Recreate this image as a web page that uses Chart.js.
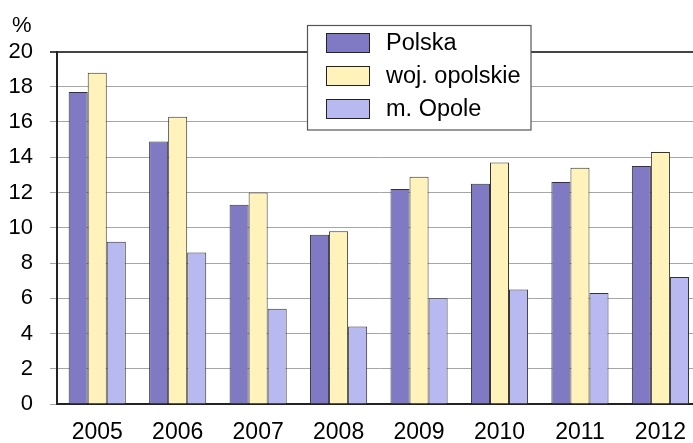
<!DOCTYPE html>
<html>
<head>
<meta charset="utf-8">
<script src="https://cdn.jsdelivr.net/npm/chart.js@4/dist/chart.umd.min.js"></script>
<style>
  html, body { margin: 0; padding: 0; background: #fff; }
  #wrap { width: 693px; height: 443px; overflow: hidden; position: relative; }
  #unit { position: absolute; left: 12px; top: 12px; font: 22px "Liberation Sans", Arial, sans-serif; color: #000; }
</style>
</head>
<body>
<div id="wrap">
  <canvas id="chartCanvas" width="701" height="443"></canvas>
  <div id="unit">%</div>
</div>
<script>
const years = ['2005', '2006', '2007', '2008', '2009', '2010', '2011', '2012'];
const polska = [17.7, 14.9, 11.3, 9.6, 12.2, 12.5, 12.6, 13.5];
const wojOpolskie = [18.8, 16.3, 12.0, 9.8, 12.9, 13.7, 13.4, 14.3];
const mOpole = [9.2, 8.6, 5.4, 4.4, 6.0, 6.5, 6.3, 7.2];
const seriesNames = ['Polska', 'woj. opolskie', 'm. Opole'];
const yTicks = [0, 2, 4, 6, 8, 10, 12, 14, 16, 18, 20];

const FONT = '"Liberation Sans", Arial, sans-serif';

// legend box drawn by hand, framed and over the top gridline
const boxLegend = {
  id: 'boxLegend',
  afterDraw(chart) {
    const ctx = chart.ctx;
    const x = 307.5, y = 25.5, w = 223.5, h = 104.5;
    ctx.save();
    ctx.fillStyle = '#fff';
    ctx.fillRect(x, y, w, h);
    ctx.strokeStyle = '#555';
    ctx.lineWidth = 1.2;
    ctx.strokeRect(x, y, w, h);
    ctx.font = '23.5px ' + FONT;
    ctx.textBaseline = 'middle';
    chart.data.datasets.forEach((ds, i) => {
      const ry = 33.5 + i * 33;
      ctx.fillStyle = ds.backgroundColor;
      ctx.fillRect(326.5, ry, 43, 19);
      ctx.strokeStyle = '#222';
      ctx.lineWidth = 1;
      ctx.strokeRect(326.5, ry, 43, 19);
      ctx.fillStyle = '#000';
      ctx.fillText(ds.label, 386, ry + 10);
    });
    ctx.restore();
  }
};

const ctx = document.getElementById('chartCanvas').getContext('2d');
const chart = new Chart(ctx, {
  type: 'bar',
  data: {
    labels: years,
    datasets: [
      { label: seriesNames[0], data: polska, backgroundColor: '#7f7ac3' },
      { label: seriesNames[1], data: wojOpolskie, backgroundColor: '#fff3bb' },
      { label: seriesNames[2], data: mOpole, backgroundColor: '#b8b9f0' },
    ].map(d => Object.assign(d, { borderColor: '#333', borderWidth: 1, borderSkipped: 'bottom' })),
  },
  options: {
    responsive: false,
    animation: false,
    layout: { padding: { top: 51.5, left: 0, right: 0, bottom: 0 } },
    categoryPercentage: 0.71,
    barPercentage: 1,
    plugins: { legend: { display: false }, tooltip: { enabled: false } },
    scales: {
      x: {
        grid: { display: false, drawTicks: false },
        border: { color: '#222', width: 2 },
        ticks: { color: '#000', font: { family: FONT, size: 23 }, padding: 15, maxRotation: 0 },
        afterFit: s => { s.height = 39; },
      },
      y: {
        min: 0,
        max: 20,
        afterBuildTicks: s => { s.ticks = yTicks.map(v => ({ value: v })); },
        grid: {
          color: c => (c.tick && c.tick.value === 20 ? '#444' : '#a6a6a6'),
          lineWidth: c => (c.tick && c.tick.value === 20 ? 2 : 1),
          tickLength: 7,
        },
        border: { color: '#222', width: 2 },
        ticks: { color: '#000', font: { family: FONT, size: 22 }, padding: 17 },
        afterFit: s => { s.width = 57; },
      },
    },
  },
  plugins: [boxLegend],
});
</script>
</body>
</html>
